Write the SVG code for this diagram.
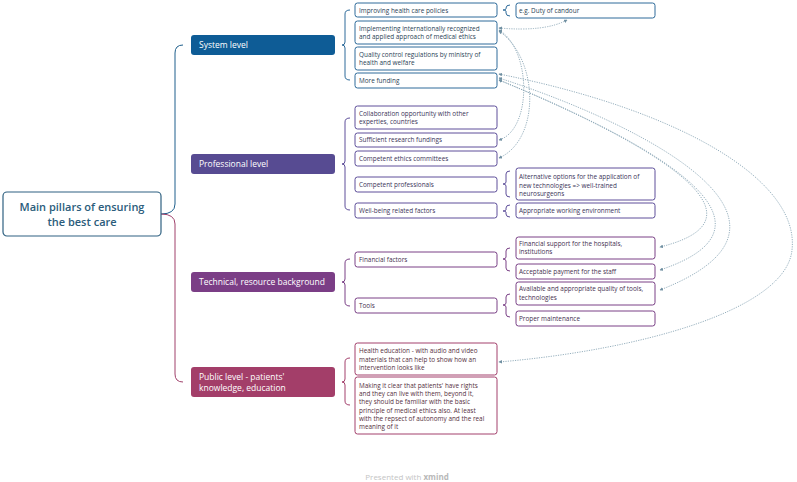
<svg xmlns="http://www.w3.org/2000/svg" width="797" height="482" viewBox="0 0 797 482">
<defs>
<marker id="arr" viewBox="0 0 6 6" refX="5" refY="3" markerWidth="4" markerHeight="4" orient="auto-start-reverse"><path d="M0,0 L6,3 L0,6 z" fill="#6f8fa1"/></marker>
</defs>
<style>
text{font-family:"Open Sans","Noto Sans",sans-serif;}
.c{font-size:6.4px;}
.l1{font-size:8.5px;fill:#ffffff;}
.root{font-size:11px;font-weight:600;fill:#2b5c7b;}
.box{fill:#ffffff;stroke-width:1;}
.b{stroke:#2e6b9a;} .bt{fill:#2a3f55;}
.p{stroke:#5e4f9a;} .pt{fill:#3a3458;}
.m{stroke:#7a4086;} .mt{fill:#45304f;}
.r{stroke:#a3406c;} .rt{fill:#553040;}
.br{fill:none;stroke-width:1;}
.rel{fill:none;stroke:#8aa6b5;stroke-width:0.9;stroke-dasharray:1.2 1.2;marker-end:url(#arr);marker-start:url(#arr);}
</style>
<rect width="797" height="482" fill="#ffffff"/>

<g id="connectors">
  <!-- root braces -->
  <path class="br" stroke="#1e5f8c" d="M161,214 Q175,214 175,204 L175,53 Q175,45 183,45"/>
  <path class="br" stroke="#a0416b" d="M161,214 Q175,214 175,224 L175,374 Q175,382 183,382"/>
  <!-- level 2 braces -->
  <path class="br b" d="M350,10 Q345,10 345,14 L345,42 Q345,45 342,45 Q345,45 345,48 L345,76 Q345,80 350,80"/>
  <path class="br p" d="M350,118 Q345,118 345,122 L345,161 Q345,164 342,164 Q345,164 345,167 L345,206 Q345,210 350,210"/>
  <path class="br m" d="M350,259 Q345,259 345,263 L345,279 Q345,282 342,282 Q345,282 345,285 L345,302 Q345,306 350,306"/>
  <path class="br r" d="M350,358 Q345,358 345,362 L345,379 Q345,382 342,382 Q345,382 345,385 L345,401 Q345,405 350,405"/>
  <!-- level 3 braces -->
  <path class="br b" d="M510,5 Q506,5 506,8 L506,9 Q506,10 503,10 Q506,10 506,11 L506,13 Q506,16 510,16"/>
  <path class="br p" d="M510,171 Q506,171 506,174 L506,182 Q506,184 503,184 Q506,184 506,186 L506,194 Q506,197 510,197"/>
  <path class="br p" d="M510,205 Q506,205 506,208 L506,210 Q506,211 503,211 Q506,211 506,212 L506,214 Q506,217 510,217"/>
  <path class="br m" d="M510,248 Q506,248 506,251 L506,257 Q506,259 503,259 Q506,259 506,261 L506,268 Q506,271 510,271"/>
  <path class="br m" d="M510,294 Q506,294 506,297 L506,303 Q506,305 503,305 Q506,305 506,307 L506,314 Q506,317 510,317"/>
  <!-- relationships -->
  <path class="rel" d="M499,28 Q545,32 567,20"/>
  <path class="rel" d="M499,30 C532,50 532,130 499,140"/>
  <path class="rel" d="M499,31 C540,60 540,140 499,158"/>
  <path class="rel" d="M499,80 C620,130 790,215 660,247"/>
  <path class="rel" d="M499,80 C620,130 810,220 660,270"/>
  <path class="rel" d="M499,78 C630,120 840,220 660,290"/>
  <path class="rel" d="M499,74 C680,110 800,180 792,250 C786,310 640,350 499,362"/>
</g>

<g id="root">
  <rect x="3" y="192" width="158" height="44" rx="4" fill="#fff" stroke="#2f6181" stroke-width="1.2"/>
  <text class="root" x="82" y="211" text-anchor="middle">Main pillars of ensuring</text>
  <text class="root" x="82" y="225.5" text-anchor="middle">the best care</text>
</g>

<g id="system-level">
  <rect x="191" y="35" width="144" height="20" rx="3" fill="#0e5c96"/>
  <text class="l1" x="199" y="48">System level</text>
</g>
<g id="professional-level">
  <rect x="191" y="154" width="144" height="20" rx="3" fill="#574b92"/>
  <text class="l1" x="199" y="167">Professional level</text>
</g>
<g id="technical-level">
  <rect x="191" y="272" width="144" height="20" rx="3" fill="#7b3e86"/>
  <text class="l1" x="199" y="285">Technical, resource background</text>
</g>
<g id="public-level">
  <rect x="191" y="367" width="144" height="30" rx="3" fill="#a33e69"/>
  <text class="l1" x="199" y="380">Public level - patients'</text>
  <text class="l1" x="199" y="391">knowledge, education</text>
</g>

<!-- System children -->
<g id="improving">
  <rect class="box b" x="355" y="3" width="142" height="14" rx="2.5"/>
  <text class="c bt" x="359" y="12.5">Improving health care policies</text>
</g>
<g id="duty">
  <rect class="box b" x="516" y="3" width="139" height="15" rx="2.5"/>
  <text class="c bt" x="519" y="12.8">e.g. Duty of candour</text>
</g>
<g id="implementing">
  <rect class="box b" x="355" y="21" width="142" height="23" rx="2.5"/>
  <text class="c bt" x="359" y="30.6">Implementing internationally recognized</text>
  <text class="c bt" x="359" y="38.6">and applied approach of medical ethics</text>
</g>
<g id="quality">
  <rect class="box b" x="355" y="47" width="142" height="23" rx="2.5"/>
  <text class="c bt" x="359" y="56.5">Quality control regulations by ministry of</text>
  <text class="c bt" x="359" y="64.5">health and welfare</text>
</g>
<g id="funding">
  <rect class="box b" x="355" y="73" width="142" height="15" rx="2.5"/>
  <text class="c bt" x="359" y="82.6">More funding</text>
</g>

<!-- Professional children -->
<g id="collaboration">
  <rect class="box p" x="355" y="106" width="142" height="23" rx="2.5"/>
  <text class="c pt" x="359" y="115.5">Collaboration opportunity with other</text>
  <text class="c pt" x="359" y="123.5">experties, countries</text>
</g>
<g id="research">
  <rect class="box p" x="355" y="133" width="142" height="14" rx="2.5"/>
  <text class="c pt" x="359" y="142">Sufficient research fundings</text>
</g>
<g id="ethics">
  <rect class="box p" x="355" y="151" width="142" height="15" rx="2.5"/>
  <text class="c pt" x="359" y="160.6">Competent ethics committees</text>
</g>
<g id="professionals">
  <rect class="box p" x="355" y="177" width="142" height="15" rx="2.5"/>
  <text class="c pt" x="359" y="186.6">Competent professionals</text>
</g>
<g id="alternative">
  <rect class="box p" x="516" y="168" width="139" height="32" rx="2.5"/>
  <text class="c pt" x="519" y="179.3">Alternative options for the application of</text>
  <text class="c pt" x="519" y="187.6">new technologies =&gt; well-trained</text>
  <text class="c pt" x="519" y="195.9">neurosurgeons</text>
</g>
<g id="wellbeing">
  <rect class="box p" x="355" y="203" width="142" height="15" rx="2.5"/>
  <text class="c pt" x="359" y="213">Well-being related factors</text>
</g>
<g id="environment">
  <rect class="box p" x="516" y="203" width="139" height="15" rx="2.5"/>
  <text class="c pt" x="519" y="213">Appropriate working environment</text>
</g>

<!-- Technical children -->
<g id="financial">
  <rect class="box m" x="355" y="252" width="142" height="15" rx="2.5"/>
  <text class="c mt" x="359" y="261.6">Financial factors</text>
</g>
<g id="support">
  <rect class="box m" x="516" y="237" width="139" height="22" rx="2.5"/>
  <text class="c mt" x="519" y="245.6">Financial support for the hospitals,</text>
  <text class="c mt" x="519" y="254">institutions</text>
</g>
<g id="payment">
  <rect class="box m" x="516" y="264" width="139" height="15" rx="2.5"/>
  <text class="c mt" x="519" y="274">Acceptable payment for the staff</text>
</g>
<g id="tools">
  <rect class="box m" x="355" y="298" width="142" height="15" rx="2.5"/>
  <text class="c mt" x="359" y="307.8">Tools</text>
</g>
<g id="available">
  <rect class="box m" x="516" y="282" width="139" height="23" rx="2.5"/>
  <text class="c mt" x="519" y="291.4">Available and appropriate quality of tools,</text>
  <text class="c mt" x="519" y="299.6">technologies</text>
</g>
<g id="maintenance">
  <rect class="box m" x="516" y="311" width="139" height="15" rx="2.5"/>
  <text class="c mt" x="519" y="320.6">Proper maintenance</text>
</g>

<!-- Public children -->
<g id="health-education">
  <rect class="box r" x="355" y="343" width="142" height="32" rx="2.5"/>
  <text class="c rt" x="359" y="353.3">Health education - with audio and video</text>
  <text class="c rt" x="359" y="361.6">materials that can help to show how an</text>
  <text class="c rt" x="359" y="369.9">intervention looks like</text>
</g>
<g id="rights">
  <rect class="box r" x="355" y="377" width="142" height="57" rx="2.5"/>
  <text class="c rt" x="359" y="387.8">Making it clear that patients' have rights</text>
  <text class="c rt" x="359" y="396.1">and they can live with them, beyond it,</text>
  <text class="c rt" x="359" y="404.4">they should be familiar with the basic</text>
  <text class="c rt" x="359" y="412.7">principle of medical ethics also. At least</text>
  <text class="c rt" x="359" y="421">with the repsect of autonomy and the real</text>
  <text class="c rt" x="359" y="429.3">meaning of it</text>
</g>

<g id="footer">
  <text x="407" y="479.5" text-anchor="middle" font-size="8" fill="#c4c4c4">Presented with <tspan font-weight="700" fill="#b8b8b8">xmind</tspan></text>
</g>
</svg>
